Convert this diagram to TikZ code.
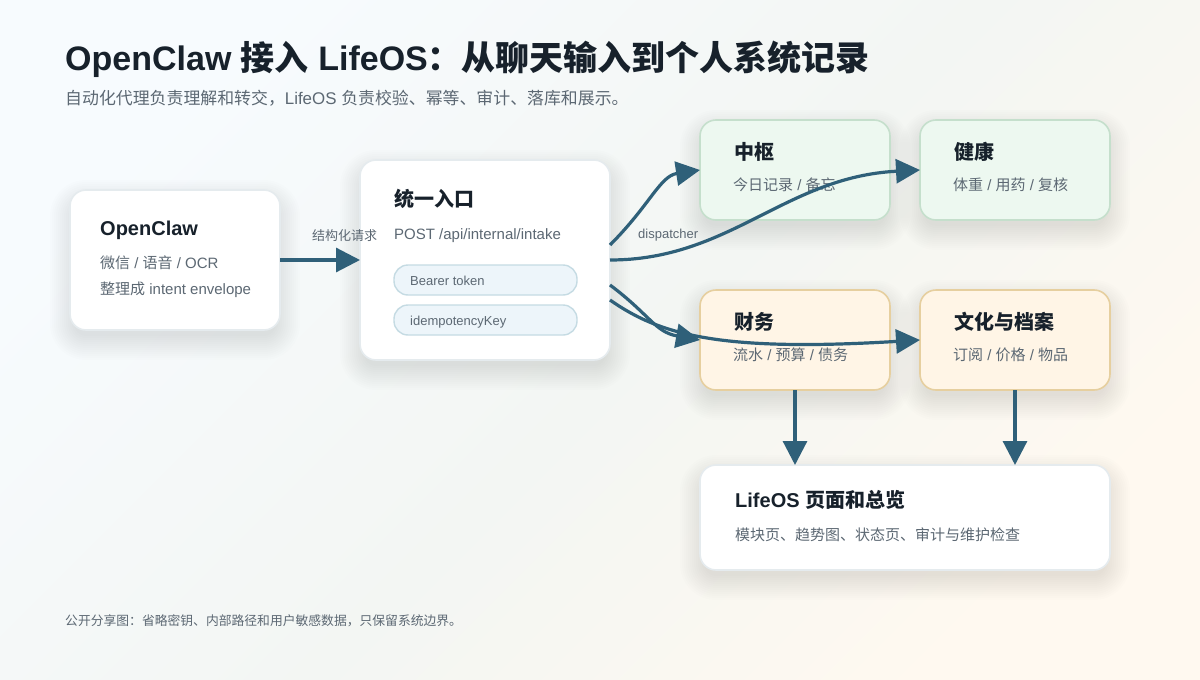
\documentclass[tikz,border=0pt]{standalone}
\usepackage{fontspec}
\setmainfont{Liberation Sans}
\newfontfamily\cjk{Noto Sans CJK SC}
\usetikzlibrary{arrows.meta,calc}
\newcommand{\zh}[1]{{\cjk #1}}
\newcommand{\fs}[1]{\fontsize{#1}{#1}\selectfont}
\definecolor{ink}{HTML}{17212B}
\definecolor{muted}{HTML}{5C6873}
\definecolor{flow}{HTML}{2F6079}
\definecolor{shadowc}{HTML}{1E3A50}
\definecolor{bgA}{HTML}{F7FBFE}
\definecolor{bgB}{HTML}{F3F6F3}
\definecolor{bgC}{HTML}{FFF9F0}
\definecolor{cardline}{HTML}{E5EBEE}
\definecolor{greenline}{HTML}{C5DFCC}
\definecolor{greenfill}{HTML}{EDF8F0}
\definecolor{amberline}{HTML}{E6CF9F}
\definecolor{amberfill}{HTML}{FFF5E6}
\definecolor{pillline}{HTML}{C5DBE3}
\definecolor{pillfill}{HTML}{EDF5FA}
\pgfdeclarehorizontalshading{pagebg}{100bp}{color(0bp)=(bgA); color(25bp)=(bgA); color(52bp)=(bgB); color(75bp)=(bgC); color(100bp)=(bgC)}
\newcommand{\softshadow}[4]{%
  \foreach \g in {-4,-2,...,20}{
    \pgfmathsetmacro{\rr}{max(16+\g,2)}
    \fill[shadowc,opacity=0.009,rounded corners=\rr pt]
      (#1-\g,#2-\g+10) rectangle (#3+\g,#4+\g+10);
  }}
\tikzset{
  card/.style={rectangle,rounded corners=16pt,line width=1.6pt,inner sep=0pt,outer sep=0pt},
  plain/.style={card,draw=cardline,fill=white},
  green/.style={card,draw=greenline,fill=greenfill},
  amber/.style={card,draw=amberline,fill=amberfill},
  pill/.style={rectangle,rounded corners=14pt,line width=1.4pt,draw=pillline,fill=pillfill,inner sep=0pt,outer sep=0pt,minimum width=183pt,minimum height=30pt},
  ctitle/.style={anchor=base west,inner sep=0pt,text=ink,font=\fs{20}\bfseries},
  cdesc/.style={anchor=base west,inner sep=0pt,text=muted,font=\fs{15}},
  small/.style={anchor=base west,inner sep=0pt,text=muted,font=\fs{13}},
  flowline/.style={draw=flow,line width=3.2pt,-{Triangle[length=24pt,width=24pt]}},
}
\begin{document}
\begin{tikzpicture}[x=1pt,y=-1pt]
\useasboundingbox (0,0) rectangle (1200,680);
\path[shading=pagebg,shading angle=-45] (0,0) rectangle (1200,680);

\node[anchor=base west,inner sep=0pt,text=ink,font=\fs{34}\bfseries] (title) at (65,70) {OpenClaw \zh{接入} LifeOS\zh{：从聊天输入到个人系统记录}};
\node[anchor=base west,inner sep=0pt,text=muted,font=\fs{16.9}] (subtitle) at (65,104) {\zh{自动化代理负责理解和转交，}LifeOS \zh{负责校验、幂等、审计、落库和展示。}};

\softshadow{70}{190}{280}{330}
\softshadow{360}{160}{610}{360}
\softshadow{700}{120}{890}{220}
\softshadow{920}{120}{1110}{220}
\softshadow{700}{290}{890}{390}
\softshadow{920}{290}{1110}{390}
\softshadow{700}{465}{1110}{570}

\node[plain,minimum width=210pt,minimum height=140pt] (openclaw) at (175,260) {};
\node[plain,minimum width=250pt,minimum height=200pt] (intake) at (485,260) {};
\node[green,minimum width=190pt,minimum height=100pt] (hub) at (795,170) {};
\node[green,minimum width=190pt,minimum height=100pt] (health) at (1015,170) {};
\node[amber,minimum width=190pt,minimum height=100pt] (finance) at (795,340) {};
\node[amber,minimum width=190pt,minimum height=100pt] (culture) at (1015,340) {};
\node[plain,minimum width=410pt,minimum height=105pt] (lifeos) at (905,517.5) {};
\node[pill] (bearer) at (485.5,280) {};
\node[pill] (idem) at (485.5,320) {};

\node[ctitle] (t1) at (100,235) {OpenClaw};
\node[cdesc] (d1a) at (100,268) {\zh{微信} / \zh{语音} / OCR};
\node[cdesc] (d1b) at (100,294) {\zh{整理成} intent envelope};
\node[ctitle] (t2) at (394,206) {\zh{统一入口}};
\node[cdesc] (d2) at (394,239) {POST /api/internal/intake};
\node[small,font=\fs{13}] (p1) at (410,285) {Bearer token};
\node[small,font=\fs{13}] (p2) at (410,325) {idempotencyKey};
\node[ctitle] (t3) at (734,159) {\zh{中枢}};
\node[cdesc] (d3) at (733,190) {\zh{今日记录} / \zh{备忘}};
\node[ctitle] (t4) at (954,159) {\zh{健康}};
\node[cdesc] (d4) at (953,190) {\zh{体重} / \zh{用药} / \zh{复核}};
\node[ctitle] (t5) at (734,329) {\zh{财务}};
\node[cdesc] (d5) at (733,360) {\zh{流水} / \zh{预算} / \zh{债务}};
\node[ctitle] (t6) at (954,329) {\zh{文化与档案}};
\node[cdesc] (d6) at (953,360) {\zh{订阅} / \zh{价格} / \zh{物品}};
\node[ctitle] (t7) at (735,507) {LifeOS \zh{页面和总览}};
\node[cdesc] (d7) at (735,540) {\zh{模块页、趋势图、状态页、审计与维护检查}};
\node[small] (l1) at (312,240) {\zh{结构化请求}};
\node[small] (l2) at (638,238) {dispatcher};
\node[small,font=\fs{12.8}] (foot) at (65,625) {\zh{公开分享图：省略密钥、内部路径和用户敏感数据，只保留系统边界。}};

\draw[flowline] (openclaw.east) -- (intake.west);
\draw[flowline] ([yshift=15pt]intake.east) .. controls (650,205) and (660,176) .. (hub.west);
\draw[flowline] (intake.east) .. controls (730,260) and (785,177) .. (health.west);
\draw[flowline] ([yshift=-25pt]intake.east) .. controls (650,315) and (655,332) .. (finance.west);
\draw[flowline] ([yshift=-40pt]intake.east) .. controls (660,335) and (720,352) .. (culture.west);
\draw[flowline] (finance.south) -- (finance.south |- lifeos.north);
\draw[flowline] (culture.south) -- (culture.south |- lifeos.north);
\end{tikzpicture}
\end{document}
